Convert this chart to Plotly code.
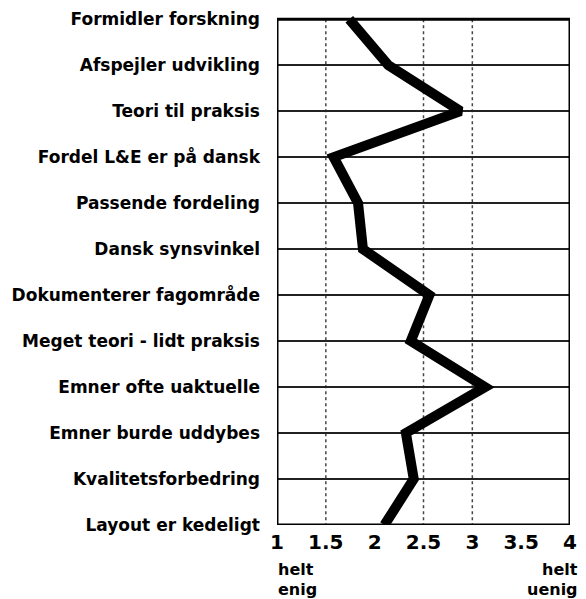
import plotly.graph_objects as go

categories = [
    "Formidler forskning",
    "Afspejler udvikling",
    "Teori til praksis",
    "Fordel L&E er på dansk",
    "Passende fordeling",
    "Dansk synsvinkel",
    "Dokumenterer fagområde",
    "Meget teori - lidt praksis",
    "Emner ofte uaktuelle",
    "Emner burde uddybes",
    "Kvalitetsforbedring",
    "Layout er kedeligt",
]
values = [1.74, 2.14, 2.88, 1.58, 1.83, 1.88, 2.56, 2.37, 3.13, 2.32, 2.40, 2.10]
x_ticks = [1, 1.5, 2, 2.5, 3, 3.5, 4]
x_tick_labels = ["1", "1.5", "2", "2.5", "3", "3.5", "4"]
x_grid = [1.5, 2.5, 3]
left_end_label = ["helt", "enig"]
right_end_label = ["helt", "uenig"]

FONT = "DejaVu Sans"
n = len(categories)
idx = list(range(n))

fig = go.Figure()
fig.add_trace(go.Scatter(
    x=values, y=idx, mode="lines",
    line=dict(color="black", width=10),
    hoverinfo="skip", showlegend=False,
))

shapes = []
for gx in x_grid:
    shapes.append(dict(type="line", xref="x", yref="y", x0=gx, x1=gx, y0=0, y1=n - 1,
                       line=dict(color="#444", width=1.5, dash="dot"), layer="below"))
shapes.append(dict(type="rect", xref="x", yref="y", x0=1, x1=4, y0=0, y1=n - 1,
                   line=dict(color="black", width=3), layer="above"))

end_font = dict(family=FONT, size=16, color="black", weight="bold")
annotations = []
for word, ys in zip(left_end_label, [-44, -64]):
    annotations.append(dict(text=word, xref="x", yref="paper", x=1, y=0, xanchor="left",
                            yanchor="middle", yshift=ys, showarrow=False, font=end_font,
                            borderpad=0))
for word, ys in zip(right_end_label, [-44, -64]):
    annotations.append(dict(text=word, xref="paper", yref="paper", x=1, y=0, xanchor="right",
                            yanchor="middle", yshift=ys, xshift=9, showarrow=False,
                            font=end_font, borderpad=0))

fig.update_layout(
    width=586, height=599, autosize=False,
    margin=dict(l=277, r=9, t=10, b=74),
    paper_bgcolor="white", plot_bgcolor="white",
    shapes=shapes,
    annotations=annotations,
    xaxis=dict(range=[1, 4], tickvals=x_ticks, ticktext=x_tick_labels,
               showgrid=False, zeroline=False, showline=False, ticks="",
               ticklabelstandoff=3,
               tickfont=dict(family=FONT, size=20, color="black", weight="bold")),
    yaxis=dict(range=[n - 1, -0.2], tickvals=idx, ticktext=categories,
               showgrid=True, gridcolor="#222", gridwidth=1.5, zeroline=False,
               showline=False, ticks="", ticklabelstandoff=16,
               tickfont=dict(family=FONT, size=17, color="black", weight="bold")),
)

fig.write_html(
    "out.html",
    config={"responsive": False, "displayModeBar": False, "staticPlot": True},
    post_script=(
        "document.body.style.margin='0';"
        "document.body.style.overflow='hidden';"
        "document.documentElement.style.overflow='hidden';"
    ),
)
